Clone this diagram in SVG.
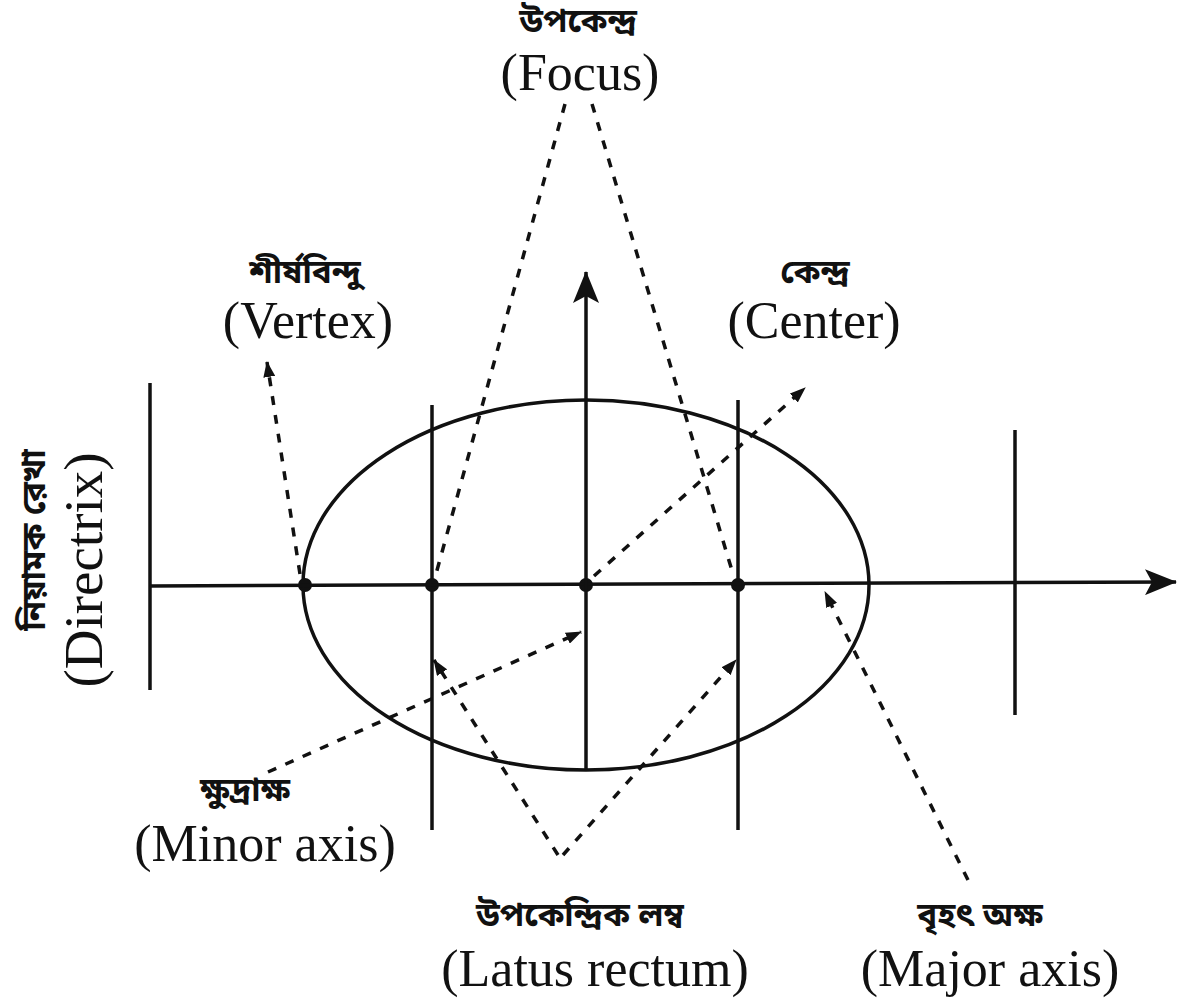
<svg xmlns="http://www.w3.org/2000/svg" width="1178" height="1005" viewBox="0 0 1178 1005">
<style>
.s{fill:none;stroke:#111;stroke-width:3.5}
.d{fill:none;stroke:#111;stroke-width:3.5;stroke-dasharray:9 10}
.en{font-family:"Liberation Serif","Times New Roman",serif;font-size:52px;fill:#111;text-anchor:middle}
.bn{font-family:"Noto Sans Bengali","Noto Serif Bengali","Lohit Bengali","Liberation Serif",serif;font-size:33px;font-weight:bold;fill:#111;text-anchor:middle}
.dot{fill:#111}
</style>
<defs>
<marker id="sa" viewBox="0 0 16 12" refX="15" refY="6" markerWidth="16" markerHeight="12" markerUnits="userSpaceOnUse" orient="auto">
<path d="M0,0 L16,6 L0,12 z" fill="#111"/>
</marker>
<marker id="ba" viewBox="0 0 32 26" refX="31" refY="13" markerWidth="32" markerHeight="26" markerUnits="userSpaceOnUse" orient="auto">
<path d="M0,0 L32,13 L0,26 L7,13 z" fill="#111"/>
</marker>
</defs>
<g id="ellipse"><ellipse class="s" cx="586" cy="585" rx="283" ry="185"/></g>
<g id="directrix-left"><line class="s" x1="150" y1="383" x2="150" y2="690"/></g>
<g id="directrix-right"><line class="s" x1="1015" y1="430" x2="1015" y2="715"/></g>
<g id="latus-left"><line class="s" x1="432" y1="405" x2="432" y2="830"/></g>
<g id="latus-right"><line class="s" x1="738" y1="400" x2="738" y2="830"/></g>
<g id="points">
<circle class="dot" cx="305" cy="585" r="7"/>
<circle class="dot" cx="432" cy="585" r="7"/>
<circle class="dot" cx="586" cy="585" r="7"/>
<circle class="dot" cx="738" cy="585" r="7"/>
</g>
<g id="connectors">
<line class="s" x1="150" y1="586" x2="1176" y2="582" marker-end="url(#ba)"/>
<line class="s" x1="586" y1="770" x2="586" y2="272" marker-end="url(#ba)"/>
<line class="d" x1="565" y1="104" x2="436" y2="574"/>
<line class="d" x1="592" y1="104" x2="733" y2="574"/>
<line class="d" x1="300" y1="574" x2="267" y2="362" marker-end="url(#sa)"/>
<line class="d" x1="594" y1="576" x2="805" y2="388" marker-end="url(#sa)"/>
<line class="d" x1="268" y1="772" x2="581" y2="632" marker-end="url(#sa)"/>
<line class="d" x1="558" y1="855" x2="434" y2="660" marker-end="url(#sa)"/>
<line class="d" x1="563" y1="855" x2="736" y2="660" marker-end="url(#sa)"/>
<line class="d" x1="968" y1="880" x2="825" y2="592" marker-end="url(#sa)"/>
</g>
<g id="label-focus">
<text class="bn" x="578" y="32">উপকেন্দ্র</text>
<text class="en" x="580" y="90">(Focus)</text>
</g>
<g id="label-vertex">
<text class="bn" x="305" y="283">শীর্ষবিন্দু</text>
<text class="en" x="308" y="338">(Vertex)</text>
</g>
<g id="label-center">
<text class="bn" x="815" y="283">কেন্দ্র</text>
<text class="en" x="814" y="338">(Center)</text>
</g>
<g id="label-directrix">
<text class="bn" transform="translate(45,540) rotate(-90)">নিয়ামক রেখা</text>
<text class="en" transform="translate(102,570) rotate(-90)" style="font-size:55px">(Directrix)</text>
</g>
<g id="label-minor">
<text class="bn" x="245" y="801">ক্ষুদ্রাক্ষ</text>
<text class="en" x="265" y="861">(Minor axis)</text>
</g>
<g id="label-latus">
<text class="bn" x="580" y="926">উপকেন্দ্রিক লম্ব</text>
<text class="en" x="595" y="986">(Latus rectum)</text>
</g>
<g id="label-major">
<text class="bn" x="980" y="926">বৃহৎ অক্ষ</text>
<text class="en" x="990" y="986">(Major axis)</text>
</g>
</svg>
